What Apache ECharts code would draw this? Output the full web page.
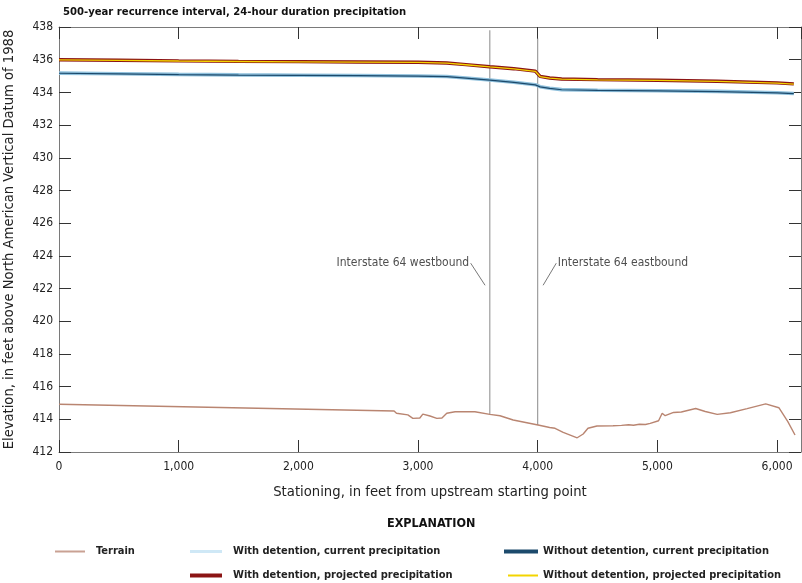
<!DOCTYPE html>
<html><head><meta charset="utf-8">
<script src="https://cdn.jsdelivr.net/npm/echarts@6/dist/echarts.min.js"></script>
<style>html,body{margin:0;padding:0;background:#fff}#c{width:802px;height:583px}</style>
</head><body><div id="c"></div>
<script>
// ---- data ----
const titleText = '500-year recurrence interval, 24-hour duration precipitation';
const xTitle = 'Stationing, in feet from upstream starting point';
const yTitle = 'Elevation, in feet above North American Vertical Datum of 1988';
const xRange = [0, 6200];
const yRange = [412, 438];

const terrainStation = [0, 2800, 2820, 2915, 2957, 3015, 3040, 3100, 3157, 3200, 3240, 3310, 3475, 3600, 3685, 3795, 4003, 4100, 4145, 4213, 4330, 4380, 4420, 4495, 4630, 4700, 4760, 4800, 4850, 4900, 4940, 5010, 5040, 5065, 5135, 5200, 5320, 5400, 5500, 5610, 5750, 5905, 6015, 6090, 6150];
const terrainElev = [414.92, 414.51, 414.37, 414.27, 414.06, 414.08, 414.32, 414.2, 414.06, 414.08, 414.37, 414.46, 414.46, 414.3, 414.22, 413.96, 413.65, 413.5, 413.45, 413.2, 412.87, 413.1, 413.45, 413.59, 413.61, 413.63, 413.67, 413.64, 413.7, 413.68, 413.75, 413.91, 414.37, 414.22, 414.42, 414.45, 414.66, 414.48, 414.3, 414.4, 414.65, 414.94, 414.71, 413.86, 413.04];

const wsStation = [0, 500, 1000, 1500, 2000, 2500, 3000, 3240, 3400, 3600, 3800, 3980, 4020, 4100, 4200, 4500, 5000, 5500, 6000, 6140];
const withDetProjected = [436.0, 435.97, 435.93, 435.9, 435.88, 435.86, 435.84, 435.8, 435.7, 435.57, 435.45, 435.3, 434.98, 434.88, 434.82, 434.78, 434.74, 434.68, 434.58, 434.52];
const withoutDetProjected = [435.99, 435.96, 435.92, 435.89, 435.87, 435.85, 435.83, 435.79, 435.69, 435.56, 435.44, 435.29, 434.97, 434.87, 434.81, 434.77, 434.73, 434.67, 434.57, 434.51];
const withDetCurrent = [435.18, 435.14, 435.1, 435.07, 435.05, 435.03, 435.0, 434.97, 434.88, 434.76, 434.62, 434.47, 434.35, 434.25, 434.17, 434.13, 434.1, 434.06, 433.98, 433.93];
const withoutDetCurrent = [435.17, 435.13, 435.09, 435.06, 435.04, 435.02, 434.99, 434.96, 434.87, 434.75, 434.61, 434.46, 434.34, 434.24, 434.16, 434.12, 434.09, 434.05, 433.97, 433.92];

const bridgeNames = ['Interstate 64 westbound', 'Interstate 64 eastbound'];
const bridgeStation = [3600, 4000];
const bridgeBottom = [414.3, 413.65];
const bridgeTop = [437.8, 437.3];
const leaderFrom = [[3440, 423.55], [4155, 423.55]];
const leaderTo = [[3560, 422.2], [4045, 422.2]];
const labelSide = ['left', 'right'];

const seriesNames = ['Terrain', 'With detention, current precipitation', 'Without detention, current precipitation', 'With detention, projected precipitation', 'Without detention, projected precipitation'];
// ---- end data ----

const FONT = "'DejaVu Sans Condensed','Liberation Sans Narrow',sans-serif";
const zip = (a, b) => a.map((v, i) => [v, b[i]]);

const series = [];
series.push({ name: seriesNames[0], type: 'line', data: zip(terrainStation, terrainElev), symbol: 'none', lineStyle: { color: '#b98571', width: 1.4 }, itemStyle: { color: '#c9a193' }, z: 3 });
series.push({ name: seriesNames[1], type: 'line', data: zip(wsStation, withDetCurrent), symbol: 'none', lineStyle: { color: '#8fc0dc', width: 3.6 }, itemStyle: { color: '#cfe8f6' }, z: 3 });
series.push({ name: seriesNames[2], type: 'line', data: zip(wsStation, withoutDetCurrent), symbol: 'none', lineStyle: { color: '#1c4a6c', width: 1.2 }, itemStyle: { color: '#1c4a6c' }, z: 4 });
series.push({ name: seriesNames[3], type: 'line', data: zip(wsStation, withDetProjected), symbol: 'none', lineStyle: { color: '#8b1414', width: 3.4 }, itemStyle: { color: '#8b1414' }, z: 3 });
series.push({ name: seriesNames[4], type: 'line', data: zip(wsStation, withoutDetProjected), symbol: 'none', lineStyle: { color: '#f3d400', width: 1.3 }, itemStyle: { color: '#f3d400' }, z: 4 });

bridgeStation.forEach((s, i) => {
  series.push({ type: 'line', data: [[s, bridgeBottom[i]], [s, bridgeTop[i]]], symbol: 'none', lineStyle: { color: '#8a8a8a', width: 1 }, z: 2, silent: true });
  series.push({ type: 'line', data: [leaderFrom[i], leaderTo[i]], symbol: 'none', lineStyle: { color: '#555', width: 0.8 }, z: 2, silent: true });
  series.push({ type: 'scatter', data: [leaderFrom[i]], symbolSize: 1, itemStyle: { color: 'rgba(0,0,0,0)' }, silent: true,
    label: { show: true, position: labelSide[i], distance: 1, formatter: bridgeNames[i], color: '#222', fontFamily: FONT, fontSize: 12 } });
});

function legendAt(name, left, top, iconW, iconH, textPad) {
  return { data: [name], left: left, top: top, padding: 0, orient: 'horizontal', icon: 'rect', itemWidth: iconW, itemHeight: iconH,
    textStyle: { fontFamily: FONT, fontWeight: 'bold', fontSize: 11, color: '#222', padding: [0, 0, 0, textPad] }, selectedMode: false };
}

const axisCommonX = { type: 'value', min: xRange[0], max: xRange[1], interval: 1000, splitLine: { show: false },
  axisLine: { onZero: false, lineStyle: { color: '#7a7a7a', width: 1 } },
  axisTick: { inside: true, length: 12, lineStyle: { color: '#333' } } };
const axisCommonY = { type: 'value', min: yRange[0], max: yRange[1], interval: 2, splitLine: { show: false },
  axisLine: { onZero: false, lineStyle: { color: '#7a7a7a', width: 1 } },
  axisTick: { inside: true, length: 12, lineStyle: { color: '#333' } } };

const option = {
  animation: false,
  backgroundColor: '#fff',
  title: [
    { text: titleText, left: 58, top: 2, textStyle: { fontFamily: FONT, fontWeight: 'bold', fontSize: 11.2, color: '#111' } },
    { text: 'EXPLANATION', left: 382, top: 512, textStyle: { fontFamily: FONT, fontWeight: 'bold', fontSize: 12.5, color: '#111' } }
  ],
  grid: { left: 59, right: 1, top: 27, bottom: 131, containLabel: false, outerBoundsMode: 'none' },
  xAxis: [
    Object.assign({}, axisCommonX, { position: 'bottom', name: xTitle, nameLocation: 'middle', nameGap: 33,
      nameTextStyle: { fontFamily: FONT, fontSize: 14.7, color: '#222' },
      axisLabel: { showMaxLabel: false, fontFamily: FONT, fontSize: 12, color: '#222', margin: 9,
        formatter: v => v.toLocaleString('en-US') } }),
    Object.assign({}, axisCommonX, { position: 'top', axisLabel: { show: false } })
  ],
  yAxis: [
    Object.assign({}, axisCommonY, { position: 'left', name: yTitle, nameLocation: 'middle', nameGap: 42,
      nameTextStyle: { fontFamily: FONT, fontSize: 14.6, color: '#222' },
      axisLabel: { fontFamily: FONT, fontSize: 12, color: '#222', margin: 6 } }),
    Object.assign({}, axisCommonY, { position: 'right', axisLabel: { show: false } })
  ],
  legend: [
    legendAt(seriesNames[0], 55, 546, 30, 2, 6),
    legendAt(seriesNames[1], 190, 546, 32, 3, 6),
    legendAt(seriesNames[2], 504, 546, 34, 4, 0),
    legendAt(seriesNames[3], 190, 570, 32, 4, 6),
    legendAt(seriesNames[4], 508, 570, 30, 2, 0)
  ],
  series: series
};

const chart = echarts.init(document.getElementById('c'), null, { renderer: 'canvas' });
chart.setOption(option);
</script>
</body></html>
